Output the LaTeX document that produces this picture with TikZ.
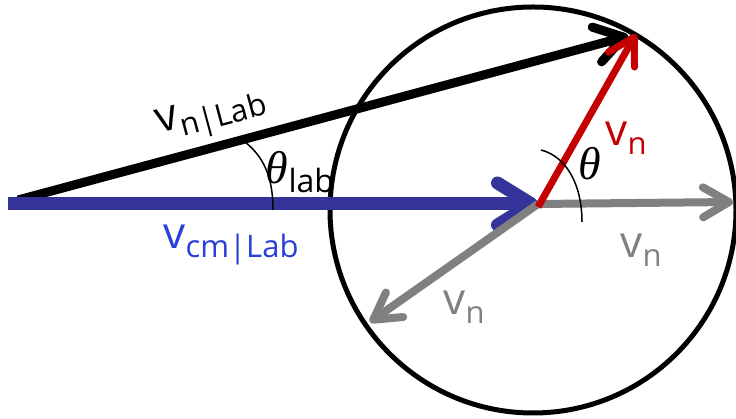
\documentclass[tikz,border=0pt]{standalone}
\usepackage{fontspec}
\setmainfont{Open Sans}
\newfontfamily\thetafont{Liberation Serif}
\usetikzlibrary{arrows.meta}
\definecolor{cmblue}{RGB}{51,51,153}
\definecolor{cmtext}{RGB}{42,62,218}
\definecolor{vred}{RGB}{196,0,0}
\definecolor{vgray}{RGB}{128,128,128}
\newcommand{\bigv}{\fontsize{44}{44}\selectfont}
\newcommand{\vsub}[1]{{\bigv v}\raisebox{-9pt}{\fontsize{31}{31}\selectfont #1}}
\newcommand{\thsym}{{\fontsize{46}{46}\thetafont\itshape θ}}
\begin{document}
\begin{tikzpicture}[x=1pt,y=1pt,
    vec/.style={line width=#1, line cap=butt},
    anglearc/.style={line width=1.5pt},
    lbl/.style={inner sep=0pt}]
    \useasboundingbox (0,0) rectangle (736,419);
    % points
    \coordinate (C) at (533,209);
    \coordinate (O) at (538,215);
    \coordinate (A) at (18,219);
    \coordinate (B) at (8,215);
    \coordinate (P) at (636,385);
    \coordinate (R) at (733,217);
    \coordinate (L) at (370,97);
    % sphere of possible velocities
    \draw[line width=5pt] (C) circle (203pt);
    % lab velocity of n
    \draw[vec=9pt, -{Straight Barb[length=28pt,width=36pt,round]}, shorten >=8pt] (A) -- (P);
    % cm velocity
    \draw[vec=13pt, cmblue, -{Straight Barb[length=34pt,width=42pt,round]}] (B) -- (O);
    % other possible v_n
    \draw[vec=8pt, vgray, -{Straight Barb[length=26pt,width=30pt,round]}] (O) -- (R);
    \draw[vec=8pt, vgray, -{Straight Barb[length=26pt,width=30pt,round]}] (O) -- (L);
    % v_n in cm frame
    \draw[vec=7pt, vred, -{Straight Barb[length=26pt,width=30pt,round]}] ([yshift=-3pt]O) -- (P);
    % angles
    \draw[anglearc] (245,277) .. controls (268,259) and (273,234) .. (273,209);
    \draw[anglearc] (541,269) .. controls (568,262) and (582,232) .. (582,197);
    % labels
    \node[lbl, rotate=15] (vnlab) at (212,303) {\vsub{n|Lab}};
    \node[lbl, text=cmtext] (vcm) at (231,174) {\vsub{cm|Lab}};
    \node[lbl, text=vred] (vnred) at (626,281) {\vsub{n}};
    \node[lbl, text=vgray] (vnright) at (641,169) {\vsub{n}};
    \node[lbl, text=vgray] (vnleft) at (464,112) {\vsub{n}};
    \node[lbl] (thlab) at (300,247) {\thsym\raisebox{-9pt}{\fontsize{32}{32}\selectfont lab}};
    \node[lbl] (th) at (590,255) {\thsym};
\end{tikzpicture}
\end{document}
